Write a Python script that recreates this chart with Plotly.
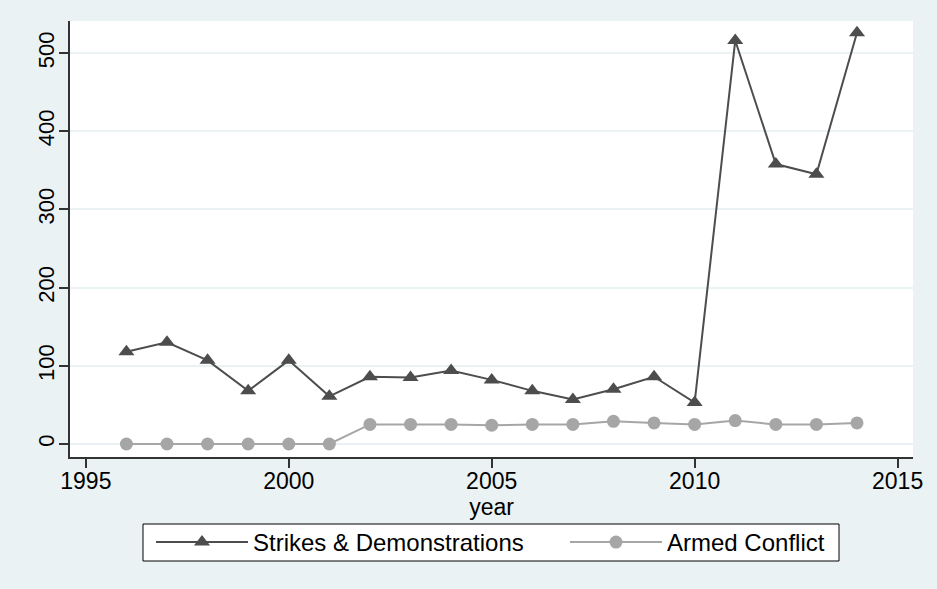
import plotly.graph_objects as go

years = list(range(1996, 2015))
strikes = [118, 130, 107, 68, 107, 61, 86, 85, 94, 82, 68, 57, 70, 86, 53, 516, 358, 345, 526]
armed = [0, 0, 0, 0, 0, 0, 25, 25, 25, 24, 25, 25, 29, 27, 25, 30, 25, 25, 27]
x_ticks = [1995, 2000, 2005, 2010, 2015]
y_ticks = [0, 100, 200, 300, 400, 500]

BG = "#EAF2F3"
FONT = "Liberation Sans, Arial, sans-serif"
W, H = 937, 589
L, R, T, B = 70, 24, 21, 132
PW, PH = W - L - R, H - T - B


def px_to_paper_x(px):
    return (px - L) / PW


def px_to_paper_y(py):
    return (H - B - py) / PH


fig = go.Figure()
fig.add_trace(go.Scatter(
    x=years, y=strikes, name="Strikes & Demonstrations",
    mode="lines+markers", legend="legend",
    line=dict(color="#4d4d4d", width=2),
    marker=dict(symbol="triangle-up", size=14, color="#4d4d4d"),
))
fig.add_trace(go.Scatter(
    x=years, y=armed, name="Armed Conflict",
    mode="lines+markers", legend="legend2",
    line=dict(color="#a6a6a6", width=2),
    marker=dict(symbol="circle", size=13, color="#a6a6a6"),
))

leg_common = dict(
    orientation="h", xref="container", yref="container",
    xanchor="left", yanchor="middle", y=1 - 542.5 / H,
    bgcolor="rgba(0,0,0,0)", borderwidth=0,
    font=dict(family=FONT, size=24, color="black"), itemwidth=92,
)

fig.update_layout(
    template="none",
    width=W, height=H,
    paper_bgcolor=BG, plot_bgcolor="white",
    margin=dict(l=L, r=R, t=T, b=B, autoexpand=False),
    font=dict(family=FONT, size=23, color="black"),
    showlegend=True,
    legend=dict(x=151 / W, **leg_common),
    legend2=dict(x=565 / W, **leg_common),
    shapes=[dict(
        type="rect", xref="paper", yref="paper", layer="below",
        x0=px_to_paper_x(143), x1=px_to_paper_x(839),
        y0=px_to_paper_y(524), y1=px_to_paper_y(561),
        fillcolor="white", line=dict(color="black", width=1),
    )],
)
fig.update_xaxes(
    range=[1994.61, 2015.38], tickvals=x_ticks, automargin=False,
    showgrid=False, zeroline=False,
    showline=True, linecolor="#333333", linewidth=2,
    ticks="outside", ticklen=9, tickcolor="#333333", tickwidth=1.5,
    tickfont=dict(size=23), ticklabelstandoff=-7,
    title=dict(text="year", standoff=0, font=dict(size=23)),
)
fig.update_yaxes(
    range=[-16.6, 541], tickvals=y_ticks, tickangle=-90, automargin=False,
    showgrid=True, gridcolor=BG, gridwidth=1.5, zeroline=False,
    showline=True, linecolor="#333333", linewidth=2,
    ticks="outside", ticklen=9, tickcolor="#333333", tickwidth=1.5,
    tickfont=dict(size=22), ticklabelstandoff=-4,
)

fig.write_html(
    "out.html",
    config={"displayModeBar": False},
    post_script="document.body.style.margin='0';document.body.style.background='%s';" % BG,
)
